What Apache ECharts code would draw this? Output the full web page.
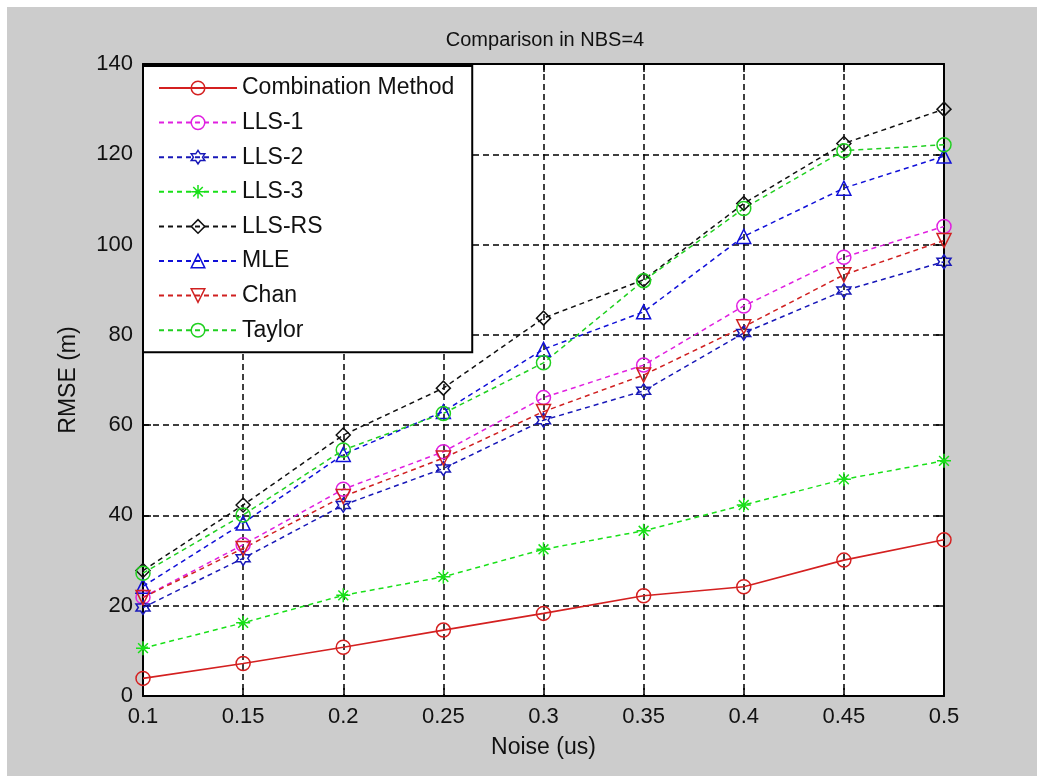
<!DOCTYPE html>
<html>
<head>
<meta charset="utf-8">
<script src="https://cdn.jsdelivr.net/npm/echarts@6/dist/echarts.min.js"></script>
<style>
html,body{margin:0;padding:0;background:#fff;}
#chart{width:1037px;height:776px;}
</style>
</head>
<body>
<div id="chart"></div>
<script>
// ---- data ----
var noiseLabels = ['0.1','0.15','0.2','0.25','0.3','0.35','0.4','0.45','0.5'];
var yTicks = [0, 20, 40, 60, 80, 100, 120, 140];
var combination = [3.9, 7.2, 10.8, 14.6, 18.3, 22.2, 24.2, 30.1, 34.6];
var lls1        = [21.9, 33.5, 45.8, 54.1, 66.1, 73.3, 86.4, 97.2, 104.0];
var lls2        = [19.6, 30.5, 42.3, 50.4, 61.1, 67.6, 80.4, 89.8, 96.2];
var lls3        = [10.6, 16.2, 22.3, 26.4, 32.5, 36.6, 42.3, 48.0, 52.1];
var llsRS       = [27.8, 42.3, 57.8, 68.2, 83.7, 92.2, 109.1, 122.4, 130.0];
var mle         = [24.3, 38.3, 53.5, 63.0, 76.8, 85.1, 101.8, 112.5, 119.6];
var chan        = [21.8, 32.7, 44.2, 52.7, 63.0, 71.1, 81.8, 93.3, 100.9];
var taylor      = [27.2, 40.1, 54.5, 62.6, 73.8, 92.0, 108.0, 120.8, 122.1];
var seriesNames = ['Combination Method','LLS-1','LLS-2','LLS-3','LLS-RS','MLE','Chan','Taylor'];

var FONT = 'Liberation Sans, Arial, Helvetica, sans-serif';
var SYM = {
  circle: 'circle',
  hexagram: 'path://M5,0 L6.44,2.5 L9.33,2.5 L7.89,5 L9.33,7.5 L6.44,7.5 L5,10 L3.56,7.5 L0.67,7.5 L2.11,5 L0.67,2.5 L3.56,2.5 Z',
  asterisk: 'path://M5,0 L5,10 M0,5 L10,5 M1.5,1.5 L8.5,8.5 M8.5,1.5 L1.5,8.5',
  diamond: 'path://M5,0 L10,5 L5,10 L0,5 Z',
  triUp: 'path://M5,0 L10,9 L0,9 Z',
  triDown: 'path://M0,0 L10,0 L5,9 Z'
};

function mk(name, data, color, symbol, solid) {
  return {
    type: 'line', name: name, data: data,
    xAxisIndex: 0, yAxisIndex: 0,
    symbol: symbol, symbolSize: 14,
    lineStyle: { color: color, width: solid ? 1.6 : 1.5, type: solid ? 'solid' : [5, 4] },
    itemStyle: { color: 'rgba(0,0,0,0)', borderColor: color, borderWidth: 1.5 },
    emphasis: { disabled: true },
    animation: false
  };
}

var chart = echarts.init(document.getElementById('chart'), null, { renderer: 'canvas' });
var option = {
  backgroundColor: '#cccccc',
  animation: false,
  graphic: [
    { type: 'rect', shape: { x: 0, y: 0, width: 1037, height: 7 }, style: { fill: '#ffffff' }, silent: true },
    { type: 'rect', shape: { x: 0, y: 0, width: 7, height: 776 }, style: { fill: '#ffffff' }, silent: true }
  ],
  title: {
    text: 'Comparison in NBS=4',
    left: 540, top: 25, textAlign: 'center',
    textStyle: { fontFamily: FONT, fontSize: 20, fontWeight: 'normal', color: '#111' }
  },
  grid: {
    left: 143, right: 93, top: 64, bottom: 80,
    show: true, backgroundColor: '#ffffff', borderWidth: 0
  },
  legend: {
    orient: 'vertical',
    left: 143, top: 66,
    padding: [10, 18, 10, 15],
    backgroundColor: '#ffffff',
    borderColor: '#000', borderWidth: 2,
    itemWidth: 78, itemHeight: 17, itemGap: 10.6,
    itemStyle: { borderWidth: 1.5 },
    textStyle: { fontFamily: FONT, fontSize: 23, color: '#111', lineHeight: 24 },
    data: seriesNames
  },
  xAxis: [{
    type: 'category', data: noiseLabels, boundaryGap: false,
    name: 'Noise (us)', nameLocation: 'middle', nameGap: 40,
    nameTextStyle: { fontFamily: FONT, fontSize: 23, color: '#111' },
    axisLine: { show: true, onZero: false, lineStyle: { color: '#000', width: 2 } },
    axisTick: { show: true, inside: true, length: 8, interval: 0, lineStyle: { color: '#000', width: 1.5 } },
    axisLabel: { fontFamily: FONT, fontSize: 22, color: '#111', margin: 10, interval: 0 },
    splitLine: { show: true, interval: 0, lineStyle: { color: '#000', width: 1.5, type: [6, 4] } }
  }, {
    type: 'category', data: noiseLabels, boundaryGap: false, position: 'top',
    axisLine: { show: true, onZero: false, lineStyle: { color: '#000', width: 2 } },
    axisTick: { show: true, inside: true, length: 8, interval: 0, lineStyle: { color: '#000', width: 1.5 } },
    axisLabel: { show: false }, splitLine: { show: false }
  }],
  yAxis: [{
    type: 'value', min: yTicks[0], max: yTicks[yTicks.length - 1], interval: 20,
    name: 'RMSE (m)', nameLocation: 'middle', nameGap: 63, nameRotate: 90,
    nameTextStyle: { fontFamily: FONT, fontSize: 23, color: '#111' },
    axisLine: { show: true, lineStyle: { color: '#000', width: 2 } },
    axisTick: { show: true, inside: true, length: 8, lineStyle: { color: '#000', width: 1.5 } },
    axisLabel: { fontFamily: FONT, fontSize: 22, color: '#111', margin: 10 },
    splitLine: { show: true, lineStyle: { color: '#000', width: 1.5, type: [6, 4] } }
  }, {
    type: 'value', min: yTicks[0], max: yTicks[yTicks.length - 1], interval: 20, position: 'right',
    axisLine: { show: true, lineStyle: { color: '#000', width: 2 } },
    axisTick: { show: true, inside: true, length: 8, lineStyle: { color: '#000', width: 1.5 } },
    axisLabel: { show: false }, splitLine: { show: false }
  }],
  series: [
    mk(seriesNames[0], combination, '#d42020', SYM.circle, true),
    mk(seriesNames[1], lls1, '#e020e0', SYM.circle, false),
    mk(seriesNames[2], lls2, '#1818b8', SYM.hexagram, false),
    mk(seriesNames[3], lls3, '#18e018', SYM.asterisk, false),
    mk(seriesNames[4], llsRS, '#111111', SYM.diamond, false),
    mk(seriesNames[5], mle, '#1010d8', SYM.triUp, false),
    mk(seriesNames[6], chan, '#d02020', SYM.triDown, false),
    mk(seriesNames[7], taylor, '#20d020', SYM.circle, false)
  ]
};
chart.setOption(option);
</script>
</body>
</html>
